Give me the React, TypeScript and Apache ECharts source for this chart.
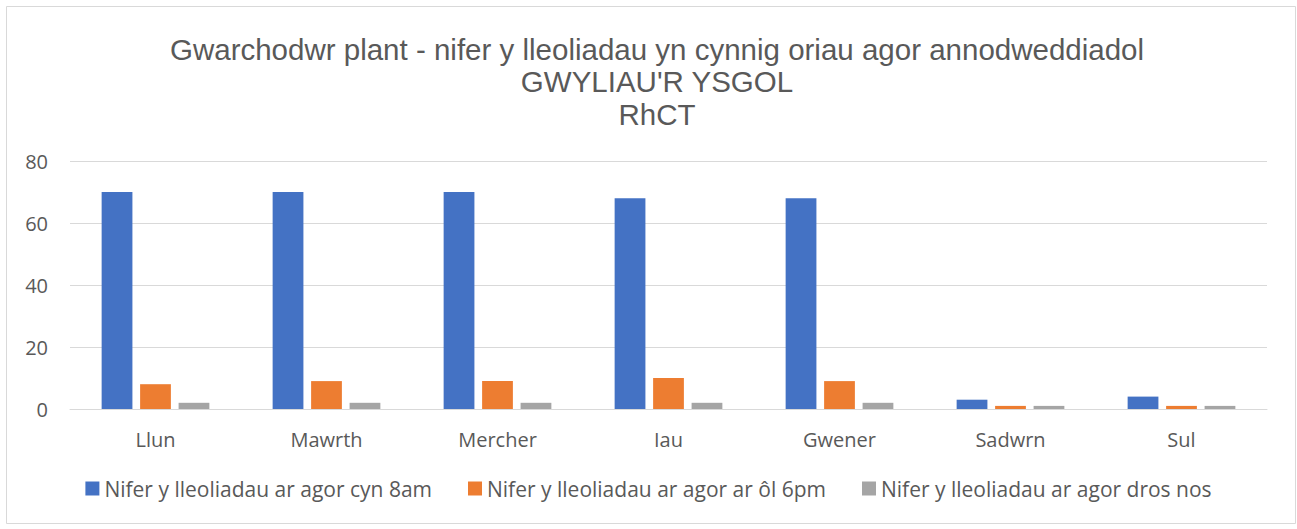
import React, { useEffect, useRef } from "react";
import * as echarts from "echarts";

const titleLines = [
  "Gwarchodwr plant - nifer y lleoliadau yn cynnig oriau agor annodweddiadol",
  "GWYLIAU'R YSGOL",
  "RhCT",
];
const categories = ["Llun", "Mawrth", "Mercher", "Iau", "Gwener", "Sadwrn", "Sul"];
const seriesNames = [
  "Nifer y lleoliadau ar agor cyn 8am",
  "Nifer y lleoliadau ar agor ar ôl 6pm",
  "Nifer y lleoliadau ar agor dros nos",
];
const before8am = [70, 70, 70, 68, 68, 3, 4];
const after6pm = [8, 9, 9, 10, 9, 1, 1];
const overnight = [2, 2, 2, 2, 2, 1, 1];
const colors = ["#4472C4", "#ED7D31", "#A5A5A5"];

export default function App() {
  const ref = useRef<HTMLDivElement>(null);
  useEffect(() => {
    if (!ref.current) return;
    const chart = echarts.init(ref.current, null, { renderer: "svg" });
    const labelFont = "'Open Sans', 'Noto Sans', sans-serif";
    const values = [before8am, after6pm, overnight];
    chart.setOption({
      animation: false,
      backgroundColor: "#ffffff",
      color: colors,
      title: {
        text: titleLines.join("\n"),
        left: 652,
        textAlign: "center",
        top: 28,
        textStyle: {
          fontFamily: "'Liberation Sans', Arial, sans-serif",
          fontSize: 29.5,
          fontWeight: "normal",
          color: "#595959",
          lineHeight: 32.5,
        },
      },
      graphic: [
        {
          type: "rect",
          shape: { x: 6.5, y: 6.5, width: 1289, height: 517 },
          style: { fill: "none", stroke: "#d9d9d9", lineWidth: 1 },
          silent: true,
          z: -1,
        },
      ],
      grid: { left: 70, right: 30, top: 161, bottom: 120 },
      legend: {
        bottom: 25,
        left: "center",
        itemWidth: 14,
        itemHeight: 14,
        itemGap: 36,
        icon: "rect",
        textStyle: { fontFamily: labelFont, fontSize: 21, color: "#595959" },
        data: seriesNames,
      },
      xAxis: {
        type: "category",
        data: categories,
        axisLine: { lineStyle: { color: "#d9d9d9", width: 1 } },
        axisTick: { show: false },
        axisLabel: { fontFamily: labelFont, fontSize: 20, color: "#595959", margin: 20 },
      },
      yAxis: {
        type: "value",
        min: 0,
        max: 80,
        interval: 20,
        axisLine: { show: false },
        axisTick: { show: false },
        splitLine: { lineStyle: { color: "#d9d9d9", width: 1 } },
        axisLabel: { fontFamily: labelFont, fontSize: 20, color: "#595959", margin: 22 },
      },
      series: seriesNames.map((name, i) => ({
        name,
        type: "bar",
        data: values[i],
        barCategoryGap: "37%",
        barGap: "25%",
        itemStyle: { color: colors[i] },
      })),
    });
    return () => chart.dispose();
  }, []);
  return (
    <div
      ref={ref}
      style={{ position: "absolute", left: 0, top: 0, width: 1297, height: 529 }}
    />
  );
}
